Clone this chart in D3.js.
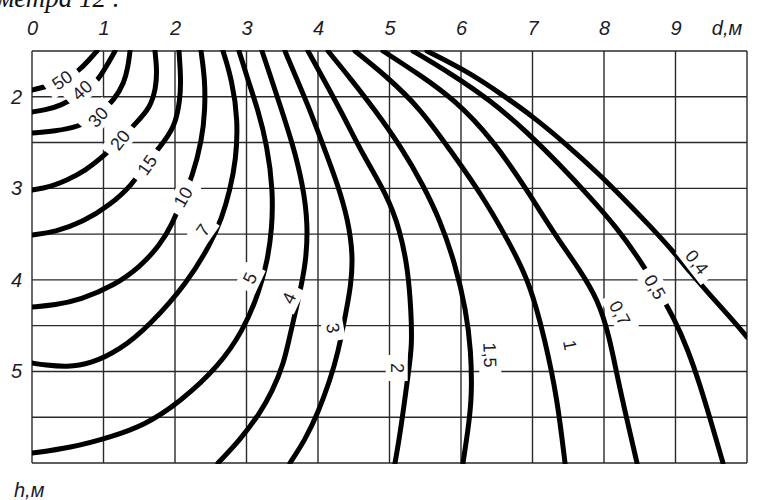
<!DOCTYPE html>
<html>
<head>
<meta charset="utf-8">
<script src="https://cdn.jsdelivr.net/npm/d3@7"></script>
<style>
  html, body { margin: 0; padding: 0; background: #fff; }
  svg { display: block; }
</style>
</head>
<body>
<svg id="chart" width="771" height="500"></svg>
<script>
// Axis ticks (distance d, height h, metres)
const dTicks = [0, 1, 2, 3, 4, 5, 6, 7, 8, 9];
const hTicks = [2, 3, 4, 5];
const gridD = [0, 1, 2, 3, 4, 5, 6, 7, 8, 9, 10];
const gridH = [1.5, 2, 2.5, 3, 3.5, 4, 4.5, 5, 5.5, 6];

// Isolines: [d, h] points along each level
const curve50 = [[0.909,1.5],[0.783,1.609],[0.671,1.708],[0.42,1.828],[0.182,1.893],[0,1.926]];
const curve40 = [[1.161,1.5],[1.035,1.675],[0.909,1.839],[0.671,1.981],[0.392,2.101],[0.182,2.144],[0,2.166]];
const curve30 = [[1.371,1.5],[1.343,1.675],[1.287,1.85],[1.161,2.024],[0.909,2.221],[0.643,2.33],[0.322,2.374],[0,2.396]];
const curve20 = [[1.72,1.5],[1.748,1.708],[1.734,1.904],[1.65,2.123],[1.469,2.275],[1.231,2.472],[1.021,2.636],[0.741,2.811],[0.49,2.909],[0.252,2.985],[0,3.018]];
const curve15 = [[2.056,1.5],[2.084,1.817],[2.07,2.035],[2.0,2.33],[1.79,2.548],[1.58,2.745],[1.399,2.964],[1.091,3.182],[0.713,3.368],[0.322,3.477],[0,3.51]];
const curve10 = [[2.364,1.5],[2.42,1.817],[2.42,2.145],[2.378,2.472],[2.238,2.887],[2.112,3.095],[1.958,3.401],[1.79,3.619],[1.51,3.859],[1.161,4.056],[0.671,4.22],[0.322,4.274],[0,4.296]];
const curve7  = [[2.671,1.5],[2.797,1.817],[2.881,2.254],[2.853,2.691],[2.769,3.018],[2.657,3.324],[2.49,3.619],[2.168,4.034],[1.65,4.493],[1.231,4.766],[0.811,4.919],[0.49,4.951],[0.182,4.93],[0,4.908]];
const curve5  = [[2.895,1.5],[3.021,1.817],[3.161,2.144],[3.287,2.527],[3.371,3.018],[3.357,3.455],[3.287,3.805],[3.217,4.001],[3.133,4.22],[2.951,4.548],[2.629,4.93],[2.07,5.334],[1.58,5.585],[1.105,5.716],[0.531,5.836],[0,5.891]];
const curve4  = [[3.217,1.5],[3.329,1.762],[3.469,2.09],[3.65,2.527],[3.79,2.964],[3.86,3.4],[3.832,3.783],[3.776,4.023],[3.692,4.329],[3.608,4.602],[3.524,4.908],[3.357,5.225],[3.189,5.454],[2.909,5.749],[2.601,6.0]];
const curve3  = [[3.538,1.5],[3.685,1.775],[3.86,2.09],[4.07,2.527],[4.28,2.964],[4.42,3.346],[4.49,3.728],[4.462,4.056],[4.392,4.351],[4.28,4.799],[4.168,5.094],[4.0,5.454],[3.818,5.749],[3.608,6.0]];
const curve2  = [[3.86,1.5],[4.07,1.795],[4.35,2.199],[4.629,2.636],[4.965,3.073],[5.147,3.455],[5.259,3.892],[5.301,4.329],[5.315,4.711],[5.273,4.962],[5.189,5.454],[5.133,5.749],[5.077,6.0]];
const curve1_5 = [[4.14,1.5],[4.448,1.795],[4.797,2.144],[5.189,2.581],[5.469,2.964],[5.706,3.346],[5.916,3.816],[6.07,4.329],[6.14,4.766],[6.154,5.279],[6.098,5.64],[6.028,6.0]];
const curve1  = [[4.517,1.5],[4.937,1.762],[5.427,2.123],[5.846,2.581],[6.266,3.04],[6.657,3.564],[6.965,4.034],[7.175,4.657],[7.343,5.279],[7.455,6.0]];
const curve0_7 = [[4.909,1.5],[5.427,1.762],[5.916,2.035],[6.448,2.472],[6.923,3.018],[7.315,3.51],[7.664,3.892],[7.916,4.22],[8.07,4.602],[8.196,5.094],[8.322,5.531],[8.462,6.0]];
const curve0_5 = [[5.329,1.5],[5.846,1.74],[6.406,2.035],[6.923,2.385],[7.385,2.745],[7.804,3.095],[8.182,3.433],[8.503,3.783],[8.755,4.111],[8.979,4.417],[9.175,4.766],[9.343,5.148],[9.51,5.585],[9.664,6.0]];
const curve0_4 = [[5.524,1.5],[6.056,1.708],[6.545,1.959],[7.035,2.232],[7.483,2.527],[7.902,2.822],[8.294,3.128],[8.643,3.411],[8.951,3.673],[9.203,3.914],[9.483,4.165],[9.762,4.406],[10.0,4.624]];

const levelNames = ["50","40","30","20","15","10","7","5","4","3","2","1,5","1","0,7","0,5","0,4"];
const levelCurves = [curve50, curve40, curve30, curve20, curve15, curve10, curve7, curve5,
                     curve4, curve3, curve2, curve1_5, curve1, curve0_7, curve0_5, curve0_4];
// Where each level's label sits [d, h] and its tilt
const labelPos = [[0.42,1.817],[0.699,1.926],[0.923,2.221],[1.231,2.472],[1.608,2.745],[2.112,3.095],[2.392,3.455],[3.049,3.979],
                  [3.594,4.198],[4.21,4.525],[5.105,4.962],[6.406,4.82],[7.524,4.711],[8.224,4.362],[8.713,4.078],[9.301,3.805]];
const labelTilt = [-35,-42,-48,-52,-55,-60,-55,-65,-65,80,90,88,80,62,60,52];

const contours = levelNames.map((name, i) => ({
  name, pts: levelCurves[i], pos: labelPos[i], tilt: labelTilt[i]
}));

const svg = d3.select("#chart");
const x = d3.scaleLinear().domain([0, 10]).range([32, 747]);
const y = d3.scaleLinear().domain([1.5, 6]).range([51, 463]);

const sans = "'Liberation Sans', Arial, sans-serif";
const ink = "#1c1c28";

// Running text above the figure (its upper part lies outside the page)
svg.append("text")
  .attr("x", -3).attr("y", 7)
  .attr("font-family", "'Liberation Serif', 'Times New Roman', serif")
  .attr("font-style", "italic")
  .attr("font-size", 27)
  .attr("fill", "#111")
  .text("метра 12 .");

// Grid
const grid = svg.append("g").attr("stroke", "#2a2a2a").attr("stroke-width", 1.4);
grid.selectAll("line.v").data(gridD).join("line")
  .attr("class", "v")
  .attr("x1", d => x(d)).attr("x2", d => x(d))
  .attr("y1", y(1.5)).attr("y2", y(6));
grid.selectAll("line.h").data(gridH).join("line")
  .attr("class", "h")
  .attr("x1", x(0)).attr("x2", x(10))
  .attr("y1", d => y(d)).attr("y2", d => y(d));

// Axis labels
const topAxis = svg.append("g")
  .attr("transform", `translate(0,${y(1.5)})`)
  .call(d3.axisTop(x).tickValues(dTicks).tickSize(0).tickPadding(16).tickFormat(d3.format("d")));
topAxis.select(".domain").remove();
topAxis.attr("font-family", sans).attr("font-size", 20).attr("font-style", "italic");
topAxis.selectAll("text").attr("fill", ink);

const leftAxis = svg.append("g")
  .attr("transform", `translate(${x(0)},0)`)
  .call(d3.axisLeft(y).tickValues(hTicks).tickSize(0).tickPadding(10).tickFormat(d3.format("d")));
leftAxis.select(".domain").remove();
leftAxis.attr("font-family", sans).attr("font-size", 20).attr("font-style", "italic");
leftAxis.selectAll("text").attr("fill", ink);

svg.append("text")
  .attr("x", x(10) - 20).attr("y", y(1.5) - 16)
  .attr("text-anchor", "middle")
  .attr("font-family", sans).attr("font-size", 20).attr("font-style", "italic")
  .attr("fill", ink)
  .text("d,м");

svg.append("text")
  .attr("x", 14).attr("y", 497)
  .attr("font-family", sans).attr("font-size", 20).attr("font-style", "italic")
  .attr("fill", ink)
  .text("h,м");

// Isolines
svg.append("clipPath").attr("id", "plotArea")
  .append("rect")
  .attr("x", x(0)).attr("y", y(1.5) - 1)
  .attr("width", x(10) - x(0)).attr("height", y(6) - y(1.5) + 2);

const line = d3.line()
  .x(p => x(p[0])).y(p => y(p[1]))
  .curve(d3.curveBasis);

svg.append("g").attr("clip-path", "url(#plotArea)")
  .selectAll("path").data(contours).join("path")
  .attr("d", d => line(d.pts))
  .attr("fill", "none")
  .attr("stroke", "#000")
  .attr("stroke-width", 5)
  .attr("stroke-linecap", "round");

// Level labels with a white patch that breaks the lines beneath
const labels = svg.append("g").selectAll("g").data(contours).join("g")
  .attr("transform", d => `translate(${x(d.pos[0])},${y(d.pos[1])}) rotate(${d.tilt})`);
labels.append("text")
  .attr("text-anchor", "middle")
  .attr("dy", "0.35em")
  .attr("font-family", sans)
  .attr("font-size", 18)
  .attr("fill", ink)
  .text(d => d.name);
labels.each(function () {
  const g = d3.select(this);
  const b = g.select("text").node().getBBox();
  g.insert("rect", "text")
    .attr("x", b.x - 8).attr("y", b.y - 1)
    .attr("width", b.width + 16).attr("height", b.height + 2)
    .attr("fill", "#fff");
});
</script>
</body>
</html>
